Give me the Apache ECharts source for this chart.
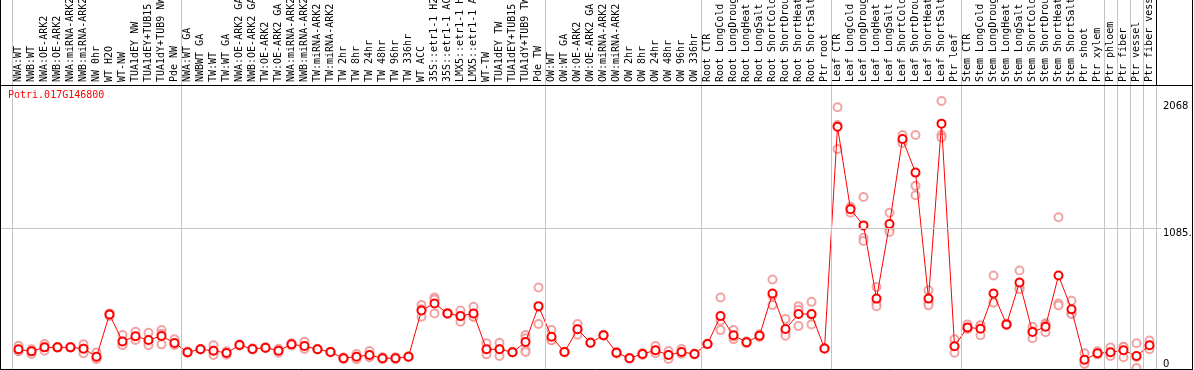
<!DOCTYPE html>
<html><head><meta charset="utf-8">
<script src="https://cdn.jsdelivr.net/npm/echarts@6/dist/echarts.min.js"></script>
<style>html,body{margin:0;padding:0;background:#fff}#c{width:1194px;height:370px}</style>
</head><body><div id="c"></div>
<script>
const geneName = 'Potri.017G146800';
const categories = [
  'NWA:WT','NWB:WT','NWA:OE-ARK2','NWB:OE-ARK2','NWA:miRNA-ARK2','NWB:miRNA-ARK2','NW 0hr','WT H2O','WT-NW','TUA1dEY NW','TUA1dEY+TUB15 NW','TUA1dY+TUB9 NW','Pde NW',
  'NWA:WT GA','NWBWT GA','TW:WT','TW:WT GA','NWA:OE-ARK2 GA','NWB:OE-ARK2 GA','TW:OE-ARK2','TW:OE-ARK2 GA','NWA:miRNA-ARK2','NWB:miRNA-ARK2','TW:miRNA-ARK2','TW:miRNA-ARK2','TW 2hr','TW 8hr','TW 24hr','TW 48hr','TW 96hr','TW 336hr','WT ACC','35S::etr1-1 H2O','35S::etr1-1 ACC','LMX5::etr1-1 H2O','LMX5::etr1-1 ACC','WT-TW','TUA1dEY TW','TUA1dEY+TUB15 TW','TUA1dY+TUB9 TW','Pde TW',
  'OW:WT','OW:WT GA','OW:OE-ARK2','OW:OE-ARK2 GA','OW:miRNA-ARK2','OW:miRNA-ARK2','OW 2hr','OW 8hr','OW 24hr','OW 48hr','OW 96hr','OW 336hr',
  'Root CTR','Root LongCold','Root LongDrought','Root LongHeat','Root LongSalt','Root ShortCold','Root ShortDrought','Root ShortHeat','Root ShortSalt','Ptr root',
  'Leaf CTR','Leaf LongCold','Leaf LongDrought','Leaf LongHeat','Leaf LongSalt','Leaf ShortCold','Leaf ShortDrought','Leaf ShortHeat','Leaf ShortSalt','Ptr leaf',
  'Stem CTR','Stem LongCold','Stem LongDrought','Stem LongHeat','Stem LongSalt','Stem ShortCold','Stem ShortDrought','Stem ShortHeat','Stem ShortSalt','Ptr shoot','Ptr xylem',
  'Ptr phloem','Ptr fiber','Ptr vessel','Ptr fiber vessel'
];
const means = [
  152,136,167,167,167,157,95,421,213,252,224,254,201,
  129,152,141,123,185,154,164,141,190,177,152,131,83,95,108,83,83,95,452,506,429,408,429,152,152,129,208,485,
  249,131,306,203,260,126,83,116,144,108,131,116,
  193,408,260,206,257,583,308,424,424,158,
  1869,1232,1108,543,1118,1774,1515,543,1893,176,
  321,311,583,344,668,285,326,722,460,72,121,
  129,144,100,183
];
const replicates = [
  [180,139,137],[152,139,116],[193,167,141],[170,165,166],[168,167,166],[190,157,121],[128,82,77],[429,408,426],[262,193,183],[288,244,224],[280,208,184],[301,272,190],[229,189,185],
  [129,123,135],[152,150,154],[183,133,108],[123,136,110],[185,180,190],[154,148,160],[164,160,168],[141,156,126],[190,198,182],[211,166,154],[152,150,154],[131,128,134],[75,88,86],[95,75,115],[139,95,90],[83,75,91],[83,75,91],[95,92,98],[493,460,403],[552,537,429],[429,425,433],[408,451,365],[480,403,404],[198,145,113],[203,152,100],[129,127,131],[262,237,147,131],[629,347,479],
  [301,224,222],[131,128,134],[347,265,306],[203,200,206],[260,256,264],[126,118,134],[83,80,86],[116,108,124],[177,134,121],[139,108,77],[154,121,118],[116,113,119],
  [193,190,196],[552,372,300],[301,229,250],[206,198,214],[257,268,246],[691,565,493],[385,282,257],[485,456,331],[518,416,344],[160,156,158],
  [2019,1882,1697],[1252,1238,1206],[1327,1012,987],[633,509,484],[1206,1077,1057],[1805,1761,1743],[1805,1413,1341],[608,509,491],[2068,1805,1786],[229,175,126],
  [344,311,308],[334,338,260],[722,516,511],[344,338,350],[760,629,615],[326,292,237],[352,344,283],[1171,506,490],[526,429,425],[121,57,38],[136,113,114],
  [165,121,100],[172,170,90],[199,93,8],[219,178,152]
];
const groupBounds = [0,13,41,53,63,73,84,85,86,87,88];
const yTickValues = [0, 1085.5, 2068];
const yTickLabels = ['0', '1085.', '2068'];
const yMidLine = 1085.5;
const yMax = 2191;

const MONO = 'DejaVu Sans Mono';
const GRAY = '#c4c4c4';
const repPoints = [];
replicates.forEach((arr, i) => arr.forEach(v => repPoints.push([i, v])));
const labelFmt = v => { const k = yTickValues.indexOf(v); return k >= 0 ? yTickLabels[k] : ''; };

const chart = echarts.init(document.getElementById('c'), null, {renderer: 'canvas'});
chart.setOption({
  animation: false,
  title: {text: geneName, left: 8, top: 90, padding: 0,
    textStyle: {color: '#ff0000', fontSize: 10, fontWeight: 'normal', fontFamily: MONO}},
  grid: [
    {left: 12, right: 38, top: 0, height: 85, outerBoundsMode: 'none', containLabel: false},
    {left: 12, right: 38, top: 85, bottom: 1, outerBoundsMode: 'none', containLabel: false},
    {left: 1, right: 33, top: 85, bottom: 1, outerBoundsMode: 'none', containLabel: false}
  ],
  xAxis: [
    {gridIndex: 0, type: 'value', min: 0, max: 88, show: false},
    {gridIndex: 1, type: 'category', data: categories, position: 'top', boundaryGap: true,
      axisLine: {show: false, onZero: false}, axisTick: {show: false}, splitLine: {show: false},
      axisLabel: {interval: 0, rotate: -90, margin: 3, hideOverlap: false, fontFamily: MONO, fontSize: 10, color: '#000'}},
    {gridIndex: 1, type: 'value', min: 0, max: 88, show: false},
    {gridIndex: 2, type: 'value', min: 0, max: 1, show: false}
  ],
  yAxis: [
    {gridIndex: 0, type: 'value', min: 0, max: 1, show: false},
    {gridIndex: 1, type: 'value', min: 0, max: yMax, show: false},
    {gridIndex: 2, type: 'value', min: 0, max: yMax, position: 'right',
      axisLine: {show: false}, axisTick: {show: false}, splitLine: {show: false},
      axisLabel: {customValues: [yTickValues[1], yTickValues[2]], formatter: labelFmt, margin: 2,
        verticalAlign: 'top', fontFamily: 'DejaVu Sans', fontSize: 10, color: '#000'}},
    {gridIndex: 2, type: 'value', min: 0, max: yMax, position: 'right',
      axisLine: {show: false}, axisTick: {show: false}, splitLine: {show: false},
      axisLabel: {customValues: [yTickValues[0]], formatter: labelFmt, margin: 2,
        verticalAlign: 'bottom', fontFamily: 'DejaVu Sans', fontSize: 10, color: '#000'}}
  ],
  series: [
    {type: 'scatter', xAxisIndex: 0, yAxisIndex: 0, data: [], silent: true, z: 1,
      markLine: {silent: true, symbol: 'none', animation: false, label: {show: false},
        lineStyle: {color: GRAY, width: 1, type: 'solid'},
        data: groupBounds.map((b, k) => k === groupBounds.length - 1
          ? {xAxis: b, lineStyle: {color: '#000'}} : {xAxis: b})}},
    {type: 'scatter', xAxisIndex: 2, yAxisIndex: 1, data: [], silent: true, z: 1,
      markLine: {silent: true, symbol: 'none', animation: false, label: {show: false},
        lineStyle: {color: GRAY, width: 1, type: 'solid'},
        data: groupBounds.map(b => ({xAxis: b}))}},
    {type: 'scatter', xAxisIndex: 3, yAxisIndex: 2, data: [], silent: true, z: 1,
      markLine: {silent: true, symbol: 'none', animation: false, label: {show: false},
        lineStyle: {color: GRAY, width: 1, type: 'solid'},
        data: [{yAxis: yMidLine}]}},
    {type: 'scatter', xAxisIndex: 1, yAxisIndex: 1, data: repPoints, z: 2,
      symbol: 'emptyCircle', symbolSize: 8,
      itemStyle: {color: '#ee8c8c', borderWidth: 1}},
    {type: 'line', xAxisIndex: 1, yAxisIndex: 1, data: means, z: 3,
      symbol: 'emptyCircle', symbolSize: 8, showAllSymbol: true,
      lineStyle: {color: '#ff0000', width: 1},
      itemStyle: {color: '#ff0000', borderWidth: 1.5}}
  ],
  graphic: [
    {type: 'line', silent: true, z: 100, shape: {x1: 0, y1: 85.5, x2: 1193, y2: 85.5}, style: {stroke: '#000', lineWidth: 1}},
    {type: 'line', silent: true, z: 100, shape: {x1: 0.5, y1: 0, x2: 0.5, y2: 370}, style: {stroke: '#000', lineWidth: 1}},
    {type: 'line', silent: true, z: 100, shape: {x1: 1192.5, y1: 0, x2: 1192.5, y2: 370}, style: {stroke: '#000', lineWidth: 1}},
    {type: 'line', silent: true, z: 100, shape: {x1: 0, y1: 369.5, x2: 1193, y2: 369.5}, style: {stroke: '#000', lineWidth: 1}}
  ]
});
</script></body></html>
